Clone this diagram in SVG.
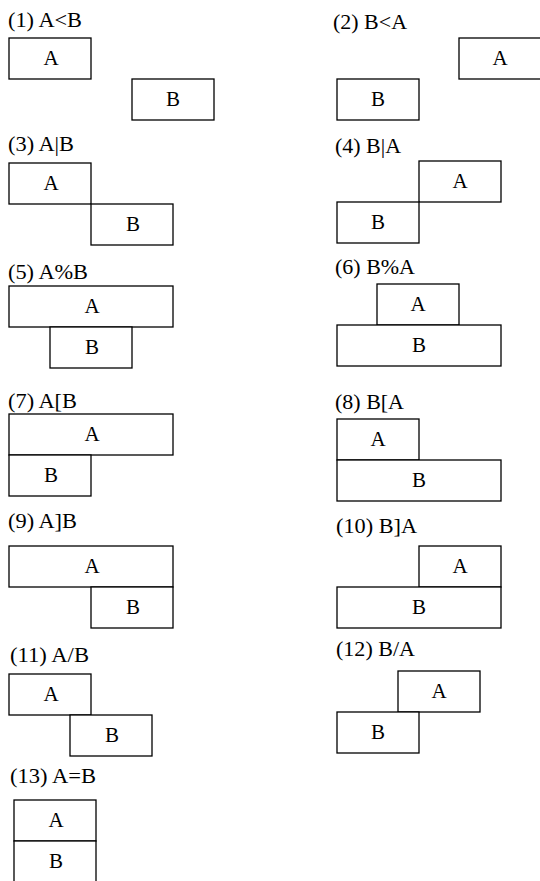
<svg xmlns="http://www.w3.org/2000/svg" width="540" height="881" viewBox="0 0 540 881">
<style>
.box{fill:#fff;stroke:#000;stroke-width:1.3}
.t{font-family:'Liberation Serif','Times New Roman',Times,serif;font-size:21px;fill:#000}
.c{text-anchor:middle}
</style>
<rect width="540" height="881" fill="#fff"/>
<g id="labels" class="t">
<text x="8" y="27" textLength="74" lengthAdjust="spacingAndGlyphs">(1) A&lt;B</text>
<text x="333" y="29" textLength="74" lengthAdjust="spacingAndGlyphs">(2) B&lt;A</text>
<text x="8" y="151" textLength="66" lengthAdjust="spacingAndGlyphs">(3) A|B</text>
<text x="335" y="153" textLength="66" lengthAdjust="spacingAndGlyphs">(4) B|A</text>
<text x="8" y="279" textLength="80" lengthAdjust="spacingAndGlyphs">(5) A%B</text>
<text x="335" y="274" textLength="80" lengthAdjust="spacingAndGlyphs">(6) B%A</text>
<text x="8" y="408" textLength="69" lengthAdjust="spacingAndGlyphs">(7) A[B</text>
<text x="335" y="409" textLength="69" lengthAdjust="spacingAndGlyphs">(8) B[A</text>
<text x="8" y="528" textLength="69" lengthAdjust="spacingAndGlyphs">(9) A]B</text>
<text x="336" y="533" textLength="81" lengthAdjust="spacingAndGlyphs">(10) B]A</text>
<text x="10" y="662" textLength="79" lengthAdjust="spacingAndGlyphs">(11) A/B</text>
<text x="336" y="656" textLength="79" lengthAdjust="spacingAndGlyphs">(12) B/A</text>
<text x="10" y="783" textLength="86" lengthAdjust="spacingAndGlyphs">(13) A=B</text>
</g>
<g id="n1A"><rect class="box" x="9" y="38" width="82" height="41"/><text class="t c" x="51" y="65">A</text></g>
<g id="n1B"><rect class="box" x="132" y="79" width="82" height="41"/><text class="t c" x="173" y="106">B</text></g>
<g id="n2A"><rect class="box" x="459" y="38" width="82" height="41"/><text class="t c" x="500" y="65">A</text></g>
<g id="n2B"><rect class="box" x="337" y="79" width="82" height="41"/><text class="t c" x="378" y="106">B</text></g>
<g id="n3A"><rect class="box" x="9" y="163" width="82" height="41"/><text class="t c" x="51" y="190">A</text></g>
<g id="n3B"><rect class="box" x="91" y="204" width="82" height="41"/><text class="t c" x="133" y="231">B</text></g>
<g id="n4A"><rect class="box" x="419" y="161" width="82" height="41"/><text class="t c" x="460" y="188">A</text></g>
<g id="n4B"><rect class="box" x="337" y="202" width="82" height="41"/><text class="t c" x="378" y="229">B</text></g>
<g id="n5A"><rect class="box" x="9" y="286" width="164" height="41"/><text class="t c" x="92" y="313">A</text></g>
<g id="n5B"><rect class="box" x="50" y="327" width="82" height="41"/><text class="t c" x="92" y="354">B</text></g>
<g id="n6A"><rect class="box" x="377" y="284" width="82" height="41"/><text class="t c" x="418" y="311">A</text></g>
<g id="n6B"><rect class="box" x="337" y="325" width="164" height="41"/><text class="t c" x="419" y="352">B</text></g>
<g id="n7A"><rect class="box" x="9" y="414" width="164" height="41"/><text class="t c" x="92" y="441">A</text></g>
<g id="n7B"><rect class="box" x="9" y="455" width="82" height="41"/><text class="t c" x="51" y="482">B</text></g>
<g id="n8A"><rect class="box" x="337" y="419" width="82" height="41"/><text class="t c" x="378" y="446">A</text></g>
<g id="n8B"><rect class="box" x="337" y="460" width="164" height="41"/><text class="t c" x="419" y="487">B</text></g>
<g id="n9A"><rect class="box" x="9" y="546" width="164" height="41"/><text class="t c" x="92" y="573">A</text></g>
<g id="n9B"><rect class="box" x="91" y="587" width="82" height="41"/><text class="t c" x="133" y="614">B</text></g>
<g id="n10A"><rect class="box" x="419" y="546" width="82" height="41"/><text class="t c" x="460" y="573">A</text></g>
<g id="n10B"><rect class="box" x="337" y="587" width="164" height="41"/><text class="t c" x="419" y="614">B</text></g>
<g id="n11A"><rect class="box" x="9" y="674" width="82" height="41"/><text class="t c" x="51" y="701">A</text></g>
<g id="n11B"><rect class="box" x="70" y="715" width="82" height="41"/><text class="t c" x="112" y="742">B</text></g>
<g id="n12A"><rect class="box" x="398" y="671" width="82" height="41"/><text class="t c" x="439" y="698">A</text></g>
<g id="n12B"><rect class="box" x="337" y="712" width="82" height="41"/><text class="t c" x="378" y="739">B</text></g>
<g id="n13A"><rect class="box" x="14" y="800" width="82" height="41"/><text class="t c" x="56" y="827">A</text></g>
<g id="n13B"><rect class="box" x="14" y="841" width="82" height="41"/><text class="t c" x="56" y="868">B</text></g>
</svg>
